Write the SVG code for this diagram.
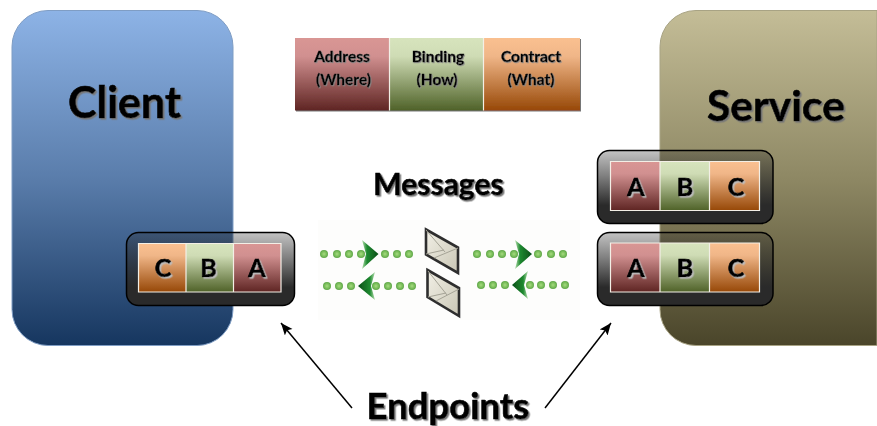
<svg xmlns="http://www.w3.org/2000/svg" width="877" height="426" viewBox="0 0 877 426">
<style>
text{font-family:Lato,"Liberation Sans",sans-serif;font-weight:700;fill:#000;stroke:#000;stroke-width:.6;text-anchor:middle}
.big{filter:url(#sh)}
.sm{font-size:15.5px;stroke-width:.35;filter:url(#shs)}
.cell{font-size:25px;stroke-width:.7;filter:url(#sh2)}
.line{stroke:#f3efe6;stroke-width:1.2}
.r{fill:url(#red)}.g{fill:url(#green)}.o{fill:url(#orange)}
.bar{fill:url(#bar);stroke:#000;stroke-width:1.5}
.dot{fill:url(#dotf)}
.env{fill:url(#envf);stroke:#2e2e2e;stroke-width:2.6}
.fold{fill:none;stroke:#a5a396;stroke-width:1}
.conn{stroke:#000;stroke-width:1.5;fill:none;marker-end:url(#ah)}
</style>
<defs>
<linearGradient id="cl" x1="0" y1="0" x2="0" y2="1"><stop offset="0" stop-color="#8db3e6"/><stop offset=".5" stop-color="#5a7dab"/><stop offset="1" stop-color="#16365f"/></linearGradient>
<linearGradient id="sv" x1="0" y1="0" x2="0" y2="1"><stop offset="0" stop-color="#c4bd97"/><stop offset=".5" stop-color="#8e8864"/><stop offset="1" stop-color="#4a452a"/></linearGradient>
<linearGradient id="red" x1="0" y1="0" x2="0" y2="1"><stop offset="0" stop-color="#d99694"/><stop offset=".25" stop-color="#d19090"/><stop offset="1" stop-color="#5f2523"/></linearGradient>
<linearGradient id="green" x1="0" y1="0" x2="0" y2="1"><stop offset="0" stop-color="#d7e4bd"/><stop offset=".25" stop-color="#cfdcb5"/><stop offset="1" stop-color="#4f6228"/></linearGradient>
<linearGradient id="orange" x1="0" y1="0" x2="0" y2="1"><stop offset="0" stop-color="#fac090"/><stop offset=".25" stop-color="#f0b688"/><stop offset="1" stop-color="#974807"/></linearGradient>
<linearGradient id="bar" x1="0" y1="0" x2="0" y2="1"><stop offset="0" stop-color="#2a2a2a" stop-opacity=".28"/><stop offset=".35" stop-color="#2a2a2a" stop-opacity=".6"/><stop offset=".75" stop-color="#2a2a2a" stop-opacity="1"/><stop offset="1" stop-color="#2a2a2a"/></linearGradient>
<linearGradient id="envf" x1="0" y1="0" x2="1" y2="1"><stop offset="0" stop-color="#f2f0e6"/><stop offset="1" stop-color="#c9c6b5"/></linearGradient>
<radialGradient id="dotf"><stop offset="0" stop-color="#a6dc7e"/><stop offset=".7" stop-color="#74b957"/><stop offset="1" stop-color="#5ea548"/></radialGradient>
<linearGradient id="ar" x1="0" y1="0" x2="1" y2="0"><stop offset="0" stop-color="#b8e0b0"/><stop offset=".3" stop-color="#1f8a30"/><stop offset="1" stop-color="#0a4f18"/></linearGradient>
<linearGradient id="al" x1="1" y1="0" x2="0" y2="0"><stop offset="0" stop-color="#b8e0b0"/><stop offset=".3" stop-color="#1f8a30"/><stop offset="1" stop-color="#0a4f18"/></linearGradient>
<filter id="sh" x="-10%" y="-20%" width="120%" height="140%"><feDropShadow dx="1.5" dy="1.5" stdDeviation=".6" flood-color="#777"/></filter>
<filter id="sh2" x="-30%" y="-30%" width="160%" height="160%"><feDropShadow dx="1.5" dy="1.5" stdDeviation=".4" flood-color="#bbb"/></filter>
<filter id="shs" x="-10%" y="-20%" width="120%" height="140%"><feDropShadow dx=".8" dy=".8" stdDeviation=".4" flood-color="#888"/></filter>
<filter id="soft" x="-10%" y="-10%" width="120%" height="120%"><feGaussianBlur stdDeviation=".5"/></filter>
<filter id="box" x="-5%" y="-5%" width="110%" height="110%"><feDropShadow dx="1" dy="1" stdDeviation=".5" flood-color="#555" flood-opacity=".8"/></filter>
<marker id="ah" markerWidth="14" markerHeight="12" refX="12" refY="5" orient="auto" markerUnits="userSpaceOnUse"><path d="M0 0L12 5L0 10L2.500 5Z" fill="#000"/></marker>
</defs>

<g id="client"><rect x="12" y="10.500" width="221" height="335" rx="36" fill="url(#cl)" stroke="#7f9dc4" stroke-width="1"/><text class="big" x="124.500" y="118" font-size="43">Client</text></g>
<g id="service"><path d="M877 10.500H696a36 36 0 0 0-36 36V309.500a36 36 0 0 0 36 36H877Z" fill="url(#sv)" stroke="#a8a384" stroke-width="1"/><text class="big" x="776" y="121" font-size="42.500">Service</text></g>

<g id="legend">
<g filter="url(#box)"><rect class="r" x="295" y="38" width="94" height="72.500"/><rect class="g" x="389" y="38" width="94" height="72.500"/><rect class="o" x="483" y="38" width="97" height="72.500"/></g>
<path class="line" d="M389.500 38V110.500M483.500 38V110.500"/>
<text class="sm" x="342" y="62">Address</text><text class="sm" x="343.500" y="85">(Where)</text>
<text class="sm" x="438" y="62">Binding</text><text class="sm" x="437" y="85">(How)</text>
<text class="sm" x="531" y="62">Contract</text><text class="sm" x="531" y="85">(What)</text>
</g>

<g id="endpoint-client">
<rect class="bar" x="126.500" y="232.500" width="168" height="73" rx="12"/>
<rect class="o" x="138.500" y="243.500" width="47.500" height="48.500"/><rect class="g" x="186" y="243.500" width="47.500" height="48.500"/><rect class="r" x="233.500" y="243.500" width="47.500" height="48.500"/>
<path class="line" fill="none" d="M138.500 243.500H281V292H138.500ZM186 243.500V292M233.500 243.500V292"/>
<text class="cell" x="163" y="277">C</text><text class="cell" x="208.500" y="277">B</text><text class="cell" x="257" y="277">A</text>
</g>

<g id="endpoint-service-1">
<rect class="bar" x="597.500" y="150.500" width="175.500" height="73" rx="12"/>
<rect class="r" x="610.500" y="161.500" width="49.500" height="49"/><rect class="g" x="660" y="161.500" width="49.500" height="49"/><rect class="o" x="709.500" y="161.500" width="50" height="49"/>
<path class="line" fill="none" d="M610.500 161.500H759.500V210.500H610.500ZM660 161.500V210.500M709.500 161.500V210.500"/>
<text class="cell" x="636" y="196">A</text><text class="cell" x="685" y="196">B</text><text class="cell" x="736" y="196">C</text>
</g>

<g id="endpoint-service-2">
<rect class="bar" x="597.500" y="232.500" width="175.500" height="73" rx="12"/>
<rect class="r" x="610.500" y="243" width="49.500" height="49"/><rect class="g" x="660" y="243" width="49.500" height="49"/><rect class="o" x="709.500" y="243" width="50" height="49"/>
<path class="line" fill="none" d="M610.500 243H759.500V292H610.500ZM660 243V292M709.500 243V292"/>
<text class="cell" x="636" y="277">A</text><text class="cell" x="685" y="277">B</text><text class="cell" x="736" y="277">C</text>
</g>

<g id="messages">
<text class="big" x="438.500" y="195" font-size="30">Messages</text>
<rect x="318" y="220" width="262" height="100" fill="#fdfdfc"/>
<g filter="url(#soft)">
<g class="dot"><circle cx="324" cy="254" r="4"/><circle cx="337" cy="254" r="4"/><circle cx="349" cy="254" r="4"/><circle cx="361" cy="254" r="4"/><circle cx="385" cy="254" r="4"/><circle cx="397" cy="254" r="4"/><circle cx="409" cy="254" r="4"/>
<circle cx="327" cy="286" r="4"/><circle cx="339" cy="286" r="4"/><circle cx="351" cy="286" r="4"/><circle cx="376" cy="286" r="4"/><circle cx="388" cy="286" r="4"/><circle cx="400" cy="286" r="4"/><circle cx="412" cy="286" r="4"/>
<circle cx="477" cy="254" r="4"/><circle cx="490" cy="254" r="4"/><circle cx="502" cy="254" r="4"/><circle cx="514" cy="254" r="4"/><circle cx="538" cy="254" r="4"/><circle cx="551" cy="254" r="4"/><circle cx="563" cy="254" r="4"/>
<circle cx="481" cy="285" r="4"/><circle cx="493" cy="285" r="4"/><circle cx="505" cy="285" r="4"/><circle cx="530" cy="285" r="4"/><circle cx="541" cy="285" r="4"/><circle cx="553" cy="285" r="4"/><circle cx="565" cy="285" r="4"/></g>
<path d="M362 240L378.500 254L362 269L366 254Z" fill="url(#ar)"/>
<path d="M515 240L532 254L515 269L519 254Z" fill="url(#ar)"/>
<path d="M375 272L358 286L375 300L371 286Z" fill="url(#al)"/>
<path d="M528 271L512 285L528 299L524 285Z" fill="url(#al)"/>
</g>
<path class="env" d="M426 229.500L458 247.500V273L426 254.500Z"/>
<path class="fold" d="M426 230L445 252M458 248L434 258M426 254L444 250"/>
<path class="env" d="M427.500 270L459 288V316L427.500 297Z"/>
<path class="fold" d="M428 271L447 295M459 289L436 301M428 297L446 293"/>
</g>

<g id="endpoints-label"><text class="big" x="448" y="419" font-size="36.500">Endpoints</text></g>

<g id="connectors">
<path class="conn" d="M352 408L281 323"/>
<path class="conn" d="M545 408L611 323"/>
</g>
</svg>
